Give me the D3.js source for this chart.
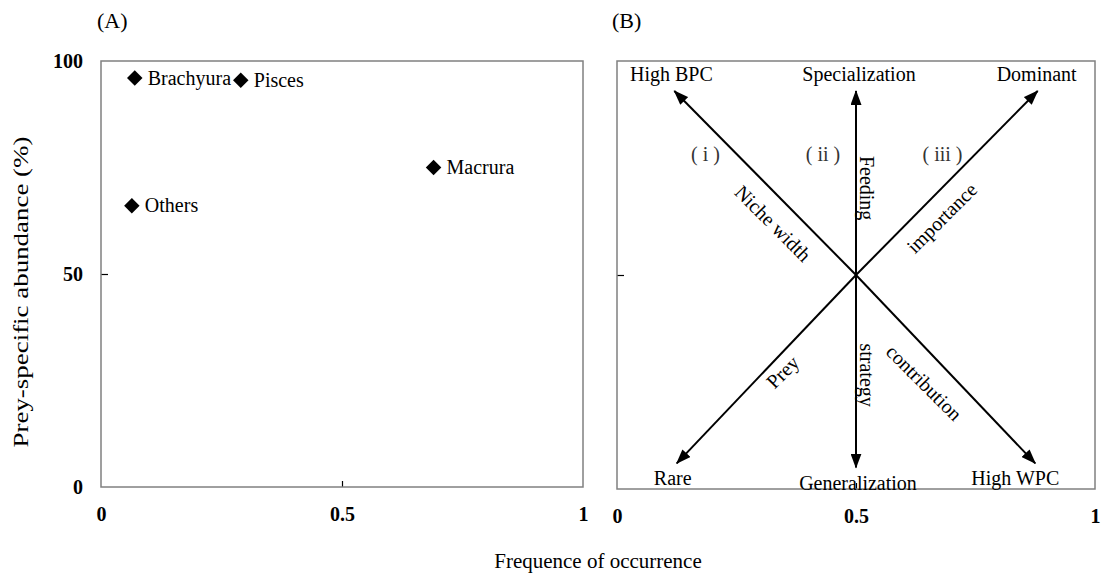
<!DOCTYPE html>
<html lang="en">
<head>
    <meta charset="UTF-8">
    <script src="https://d3js.org/d3.v7.min.js"></script>
    <title>Prey importance plot</title>
    <style>
        body { margin: 0; background: #fff; }
        text { font-family: "Liberation Serif", "Times New Roman", serif; fill: #000; }
        .tick text { font-weight: bold; font-size: 20px; }
        .tick line { stroke: #000; stroke-width: 1.2; }
        .domain { display: none; }
        .frame { fill: none; stroke: #808080; stroke-width: 1.5; }
        .arrow { stroke: #000; stroke-width: 2; }
    </style>
</head>
<body>
<div id="chart"></div>

<script>
    // panel A: prey items
    const preyNames = ["Brachyura", "Pisces", "Macrura", "Others"];
    const preyFreq = [0.07, 0.29, 0.69, 0.064];
    const preyAbund = [96, 95.5, 75, 66];

    // panel B: interpretation diagram (arrows from the centre)
    const arrowEnds = [
        [0.12, 93], [0.5, 93], [0.88, 93],
        [0.125, 6], [0.5, 5], [0.875, 6]
    ];
    const arrowLabels = ["High BPC", "Specialization", "Dominant",
                         "Rare", "Generalization", "High WPC"];
    const axisNotes = ["( i )", "( ii )", "( iii )"];
    const lineNotes = ["Niche width", "Feeding", "importance", "Prey", "strategy", "contribution"];

    const xTicks = [0, 0.5, 1];
    const yTicksA = [0, 50, 100];

    const svg = d3.select("#chart").append("svg")
        .attr("width", 1101)
        .attr("height", 577);

    // scales for both panels
    const xA = d3.scaleLinear().domain([0, 1]).range([101, 583]);
    const yA = d3.scaleLinear().domain([0, 100]).range([487, 61]);
    const xB = d3.scaleLinear().domain([0, 1]).range([617, 1095]);
    const yB = d3.scaleLinear().domain([0, 100]).range([489, 61]);

    function drawAxes(x, y, yTicks, showYLabels) {
        svg.append("g")
            .attr("transform", "translate(0," + y.range()[0] + ")")
            .call(d3.axisBottom(x).tickValues(xTicks).tickSizeInner(-6).tickSizeOuter(0)
                .tickPadding(20).tickFormat(d3.format("")));
        svg.append("g")
            .attr("transform", "translate(" + x.range()[0] + ",0)")
            .call(d3.axisLeft(y).tickValues(yTicks).tickSizeInner(-7).tickSizeOuter(0)
                .tickPadding(18).tickFormat(showYLabels ? d3.format("") : ""));
        // remove tick lines lying on the frame
        svg.selectAll(".tick line").filter(function (d) {
            return d === 0 || d === 1 || d === 100;
        }).remove();
        svg.append("rect")
            .attr("class", "frame")
            .attr("x", x.range()[0])
            .attr("y", y.range()[1])
            .attr("width", x.range()[1] - x.range()[0])
            .attr("height", y.range()[0] - y.range()[1]);
    }

    drawAxes(xA, yA, yTicksA, true);
    drawAxes(xB, yB, [50], false);

    // panel letters
    svg.append("text").attr("x", 97).attr("y", 28).style("font-size", "22px").text("(A)");
    svg.append("text").attr("x", 612).attr("y", 28).style("font-size", "22px").text("(B)");

    // axis titles
    svg.append("text")
        .attr("transform", "translate(28,292) rotate(-90)")
        .attr("text-anchor", "middle")
        .style("font-size", "22px")
        .attr("textLength", 311)
        .attr("lengthAdjust", "spacingAndGlyphs")
        .text("Prey-specific abundance (%)");
    svg.append("text")
        .attr("x", 598)
        .attr("y", 568)
        .attr("text-anchor", "middle")
        .style("font-size", "21px")
        .text("Frequence of occurrence");

    // panel A points
    const diamond = d3.symbol().type(d3.symbolSquare).size(120);
    const pts = svg.append("g").selectAll("g")
        .data(preyNames)
        .join("g")
        .attr("transform", (d, i) => "translate(" + xA(preyFreq[i]) + "," + yA(preyAbund[i]) + ")");
    pts.append("path")
        .attr("d", diamond)
        .attr("transform", "rotate(45)")
        .attr("fill", "#000");
    pts.append("text")
        .attr("x", 13)
        .attr("dy", "0.33em")
        .style("font-size", "20px")
        .text(d => d);

    // panel B arrows
    const defs = svg.append("defs");
    defs.append("marker")
        .attr("id", "head")
        .attr("markerUnits", "userSpaceOnUse")
        .attr("viewBox", "0 0 15 11")
        .attr("refX", 14)
        .attr("refY", 5.5)
        .attr("markerWidth", 15)
        .attr("markerHeight", 11)
        .attr("orient", "auto")
        .append("path")
        .attr("d", "M0,0L15,5.5L0,11Z")
        .attr("fill", "#000");

    svg.append("g").selectAll("line")
        .data(arrowEnds)
        .join("line")
        .attr("class", "arrow")
        .attr("x1", xB(0.5))
        .attr("y1", yB(50))
        .attr("x2", d => xB(d[0]))
        .attr("y2", d => yB(d[1]))
        .attr("marker-end", "url(#head)");

    // labels at the arrow tips
    const tipShift = [-3, 3, -1, -4, 2, -20];
    svg.append("g").selectAll("text")
        .data(arrowLabels)
        .join("text")
        .attr("text-anchor", "middle")
        .attr("x", (d, i) => xB(arrowEnds[i][0]) + tipShift[i])
        .attr("y", (d, i) => i < 3 ? yB(arrowEnds[i][1]) - 10 : yB(arrowEnds[i][1]) + 22)
        .style("font-size", "20px")
        .text(d => d);

    // (i) (ii) (iii)
    const noteX = [0.185, 0.431, 0.681];
    svg.append("g").selectAll("text")
        .data(axisNotes)
        .join("text")
        .attr("text-anchor", "middle")
        .attr("x", (d, i) => xB(noteX[i]))
        .attr("y", yB(78) + 6)
        .style("font-size", "20px")
        .style("fill", "#333")
        .text(d => d);

    // words written along the arrows
    const notePos = [[0.326, 62, 45], [0.523, 70.3, 90], [0.68, 63.3, -45],
                     [0.347, 27.3, -45], [0.523, 26.6, 90], [0.642, 24.8, 45]];
    svg.append("g").selectAll("text")
        .data(lineNotes)
        .join("text")
        .attr("text-anchor", "middle")
        .attr("dy", "0.33em")
        .attr("transform", (d, i) => "translate(" + xB(notePos[i][0]) + "," + yB(notePos[i][1]) + ") rotate(" + notePos[i][2] + ")")
        .style("font-size", "20px")
        .text(d => d);
</script>

</body>
</html>
